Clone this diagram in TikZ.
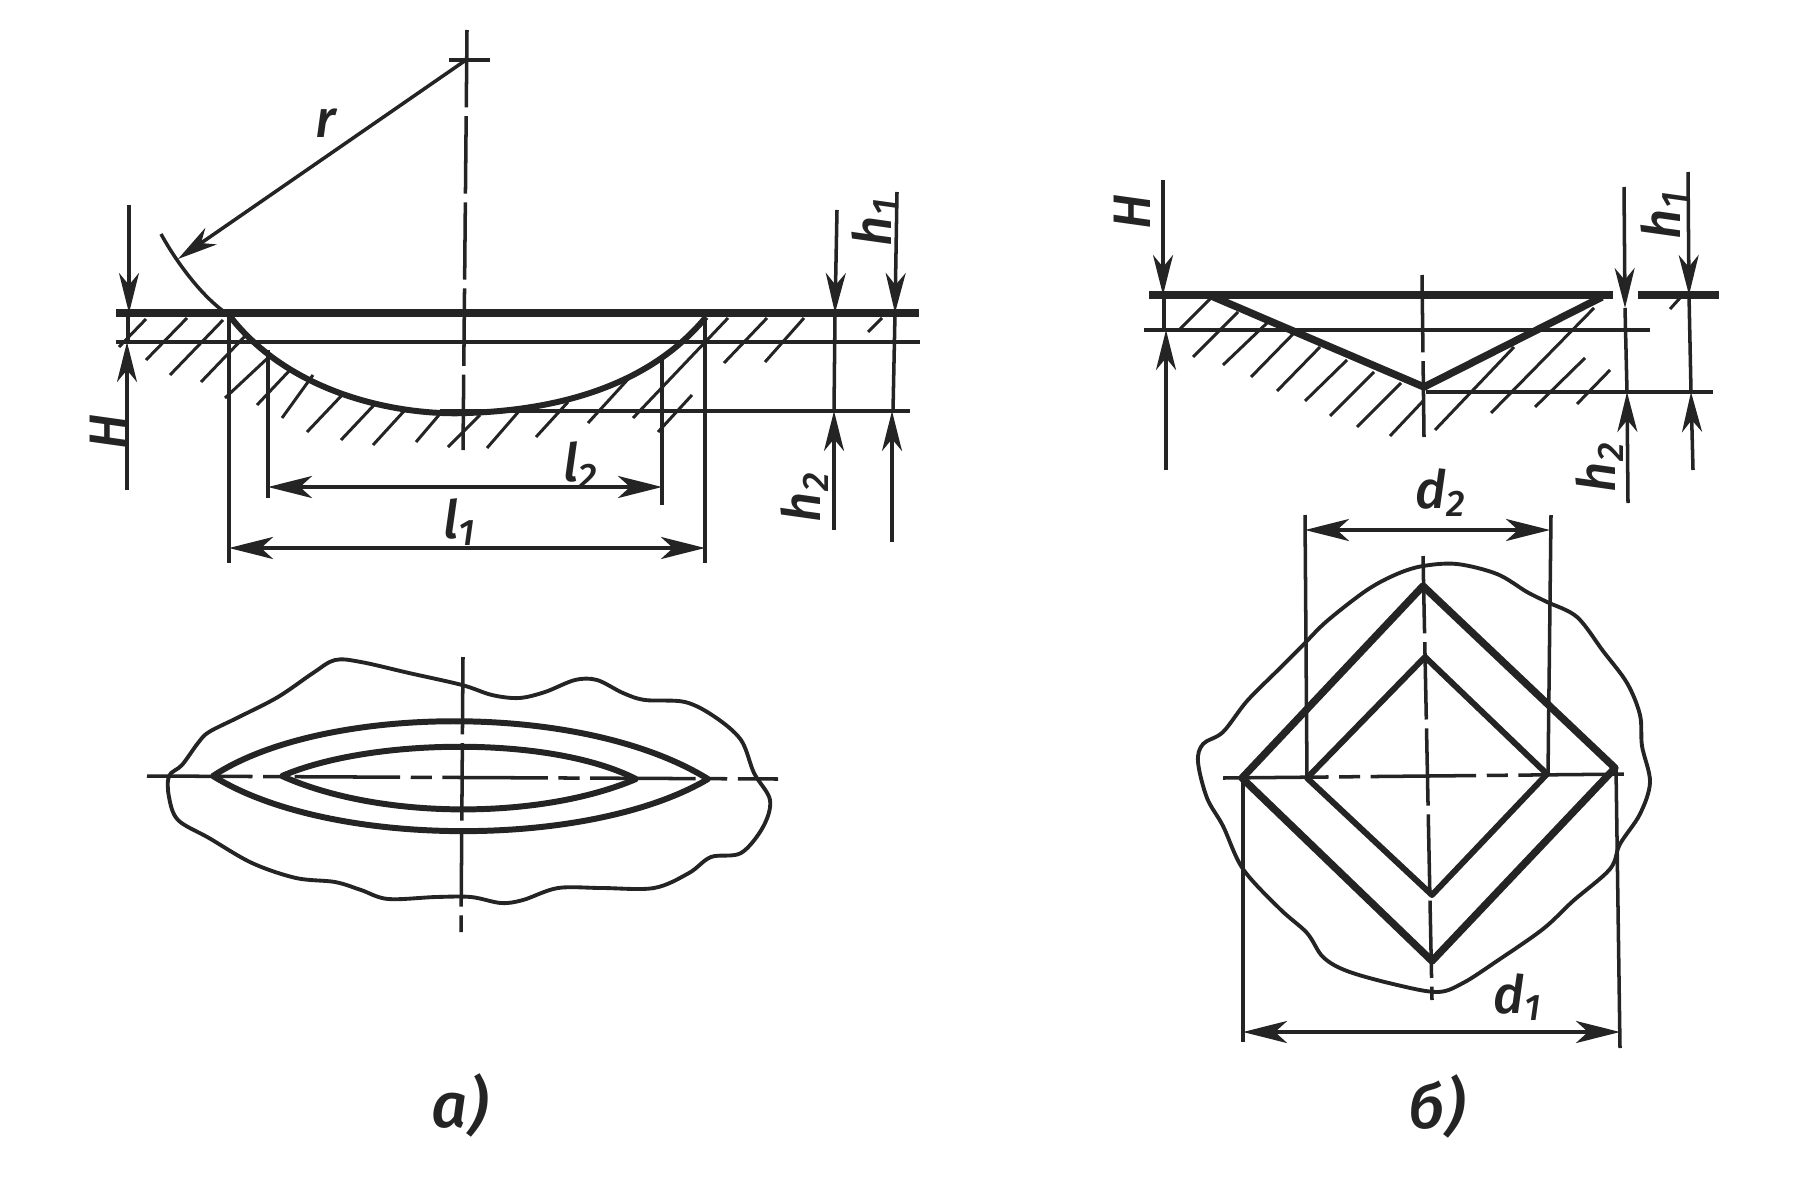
\documentclass[tikz,border=0pt]{standalone}
\usepackage{fontspec}
\setmainfont{Fira Sans Medium}
\usetikzlibrary{arrows.meta}
\definecolor{ink}{gray}{0.14}
\tikzset{
	thickline/.style={ink,line width=2.3pt},
	profile/.style={ink,line width=1.7pt,line join=round},
	rough/.style={ink,line width=1.1pt,line join=round},
	thinline/.style={ink,line width=1pt},
	hatch/.style={ink,line width=0.85pt},
	axis/.style={ink,line width=1pt,dash pattern=on 22pt off 2.5pt},
	midaxis/.style={ink,line width=1pt,dash pattern=on 30pt off 3pt on 6pt off 3pt},
	dim/.style={ink,line width=1pt,-{Stealth[length=4mm,width=2mm,inset=1.2mm]}},
	dimboth/.style={ink,line width=1.1pt,{Stealth[length=4.4mm,width=2.2mm,inset=1.2mm]}-{Stealth[length=4.4mm,width=2.2mm,inset=1.2mm]}},
	dimlabel/.style={ink,inner sep=0pt,font=\fontsize{15}{15}\selectfont\itshape},
	caption/.style={ink,inner sep=0pt,font=\fontsize{18}{18}\selectfont\itshape}
}
\begin{document}
\begin{tikzpicture}[x=0.01cm,y=-0.01cm]
	\useasboundingbox (0,0) rectangle (1800,1200);

	% section a
	\draw[thickline] (116,313) -- (919,313);
	\draw[thinline] (116,342) -- (920,342);
	\draw[thinline] (440,411) -- (910,411);
	\foreach \xa/\ya/\xb/\yb in {146/319/119/347,187/318/146/360,223/320/170/375,248/333/201/382,271/355/225/398,290/370/257/405,313/375/282/418,344/393/307/432,375/404/341/440,405/410/373/445,439/415/416/442,480/415/448/447,520/410/487/448,568/402/536/437,630/377/588/423,728/318/633/418,692/395/658/432,767/318/724/363,804/318/765/362,882/318/868/332} {
			\draw[hatch] (\xa,\ya) -- (\xb,\yb);
		}
	\draw[profile] (229,315) .. controls (290,395) and (400,416) .. (467,413) .. controls (560,410) and (650,385) .. (706,317);
	\draw[thinline] (161,234) .. controls (178,265) and (205,300) .. (229,315);
	\draw[axis] (467,30) -- (463,450);
	\draw[thinline] (449,60) -- (490,60);
	\draw[dim] (466,60) -- (178,259);

	\draw[thinline] (229,313) -- (229,563);
	\draw[thinline] (268,350) -- (268,498);
	\draw[thinline] (662,357) -- (662,505);
	\draw[thinline] (705,318) -- (705,563);
	\draw[dimboth] (268,487) -- (662,487);
	\draw[dimboth] (229,548) -- (705,548);

	\draw[dim] (129,205) -- (129,313);
	\draw[thinline] (128,313) -- (128,342);
	\draw[dim] (127,490) -- (127,342);
	\draw[dim] (837,210) -- (835,313);
	\draw[thinline] (835,313) -- (834,411);
	\draw[dim] (834,530) -- (834,411);
	\draw[dim] (897,192) -- (895,313);
	\draw[thinline] (895,313) -- (893,411);
	\draw[dim] (892,542) -- (892,411);

	\node[dimlabel] (radius) at (326,123) {r};
	\node[dimlabel,rotate=90] (depthA) at (108,432) {H};
	\node[dimlabel,rotate=90] (hupA) at (875,222) {h\textsubscript{1}};
	\node[dimlabel,rotate=90] (hlowA) at (805,497) {h\textsubscript{2}};
	\node[dimlabel] (ltwo) at (581,466) {l\textsubscript{2}};
	\node[dimlabel] (lone) at (460,522) {l\textsubscript{1}};

	% plan a
	\draw[rough] plot[smooth cycle,tension=0.55] coordinates {(169,776) (182,765) (198,743) (209,732) (239,717) (278,697) (313,673) (335,660) (361,662) (409,673) (462,685) (492,695) (519,698) (545,692) (575,680) (597,680) (623,693) (645,700) (685,702) (715,717) (741,740) (754,773) (770,800) (763,827) (741,853) (711,857) (689,873) (654,888) (602,888) (558,888) (523,900) (501,903) (471,897) (436,897) (388,899) (361,890) (335,882) (296,878) (252,863) (209,838) (178,820) (169,797)};
	\draw[profile] (213,776) .. controls (320,705) and (580,700) .. (708,779) .. controls (590,849) and (330,849) .. cycle;
	\draw[profile] (282,776) .. controls (370,738) and (550,735) .. (636,779) .. controls (540,820) and (380,820) .. cycle;
	\draw[midaxis] (147,776) -- (778,779);
	\draw[axis] (463,657) -- (461,932);
	\node[caption] (capA) at (460,1105) {а)};

	% section b
	\draw[thickline] (1149,295) -- (1613,295);
	\draw[thickline] (1638,295) -- (1719,295);
	\draw[thinline] (1144,330) -- (1650,330);
	\draw[thinline] (1426,392) -- (1713,392);
	\foreach \xa/\ya/\xb/\yb in {1211/298/1179/330,1238/312/1193/357,1267/323/1223/365,1295/332/1251/377,1320/347/1277/391,1347/360/1305/401,1374/372/1330/416,1401/383/1357/427,1424/400/1390/436,1514/347/1435/430,1594/308/1491/413,1585/358/1535/407,1610/370/1577/404,1680/298/1670/309} {
			\draw[hatch] (\xa,\ya) -- (\xb,\yb);
		}
	\draw[profile,line width=2.1pt] (1209,295) -- (1424,387) -- (1602,297);
	\draw[axis] (1422,275) -- (1424,437);

	\draw[dim] (1163,180) -- (1163,295);
	\draw[thinline] (1164,295) -- (1164,330);
	\draw[dim] (1166,470) -- (1166,330);
	\draw[dim] (1624,187) -- (1625,308);
	\draw[thinline] (1625,308) -- (1627,392);
	\draw[dim] (1628,503) -- (1627,392);
	\draw[dim] (1688,172) -- (1689,295);
	\draw[thinline] (1689,295) -- (1691,392);
	\draw[dim] (1693,470) -- (1691,392);

	\node[dimlabel,rotate=90] (depthB) at (1132,212) {H};
	\node[dimlabel,rotate=90] (hupB) at (1664,215) {h\textsubscript{1}};
	\node[dimlabel,rotate=90] (hlowB) at (1600,467) {h\textsubscript{2}};
	\node[dimlabel] (dtwo) at (1441,493) {d\textsubscript{2}};

	% plan b
	\draw[rough] plot[smooth cycle,tension=0.55] coordinates {(1423,566) (1457,564) (1497,574) (1527,592) (1547,602) (1577,617) (1603,651) (1627,683) (1640,715) (1642,746) (1650,782) (1640,814) (1620,844) (1610,869) (1573,901) (1543,929) (1497,961) (1463,983) (1437,992) (1393,984) (1347,971) (1323,957) (1307,933) (1280,909) (1243,869) (1223,826) (1207,798) (1198,762) (1203,744) (1223,732) (1247,701) (1277,671) (1303,645) (1327,621) (1367,590) (1397,574)};
	\draw[profile,line width=2.1pt] (1423,586) -- (1615,768) -- (1432,961) -- (1242,778) -- cycle;
	\draw[profile] (1425,657) -- (1547,774) -- (1432,895) -- (1307,778) -- cycle;
	\draw[midaxis] (1223,778) -- (1633,774);
	\draw[axis] (1423,556) -- (1432,1000);

	\draw[thinline] (1305,515) -- (1307,778);
	\draw[thinline] (1551,515) -- (1548,774);
	\draw[thinline] (1243,778) -- (1243,1042);
	\draw[thinline] (1616,768) -- (1620,1048);
	\draw[dimboth] (1305,530) -- (1550,530);
	\draw[dimboth] (1243,1032) -- (1620,1032);

	\node[dimlabel] (done) at (1518,997) {d\textsubscript{1}};
	\node[caption] (capB) at (1437,1106) {б)};
\end{tikzpicture}
\end{document}
